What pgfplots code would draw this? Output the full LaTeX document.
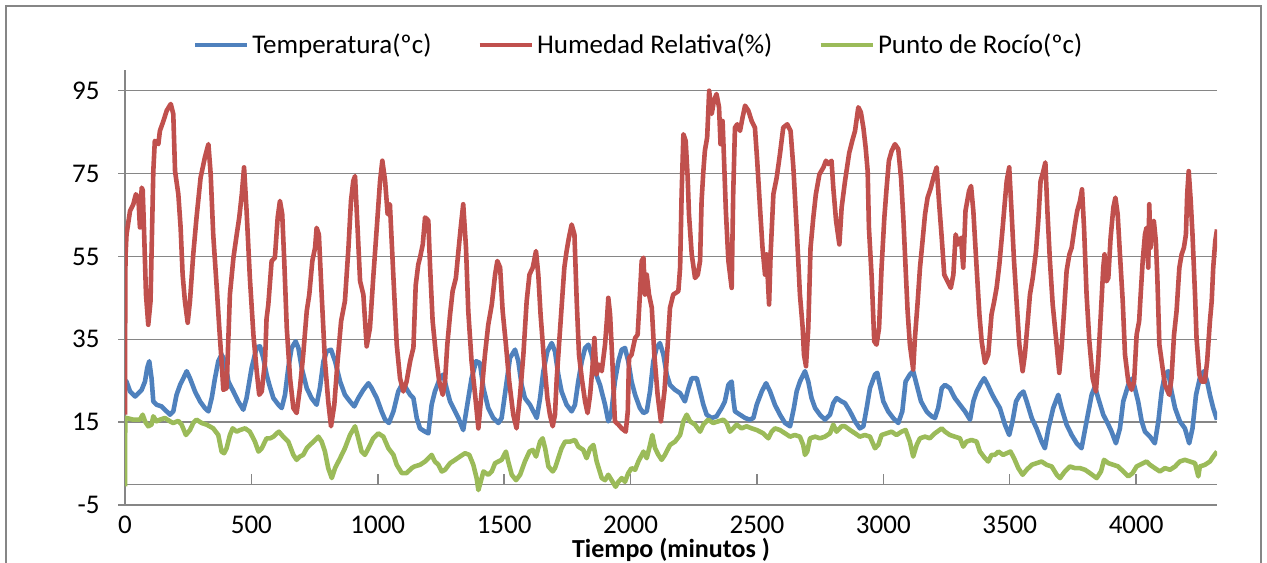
\documentclass[border=0pt]{standalone}
\usepackage{fontspec}
\setmainfont{Carlito}
\usepackage{pgfplots}
\pgfplotsset{compat=1.18}
\definecolor{cT}{HTML}{4F81BD}
\definecolor{cH}{HTML}{C0504D}
\definecolor{cP}{HTML}{9BBB59}
\definecolor{gridc}{HTML}{868686}
\begin{document}
\begin{tikzpicture}[x=1pt,y=1pt]
\path[use as bounding box] (0,0) rectangle (633.5,-281);
\draw[gridc, line width=0.75pt] (3,-290) -- (3,-3) -- (630.5,-3) -- (630.5,-290);
\begin{axis}[
  at={(62.5pt,-252.5pt)}, anchor=south west,
  scale only axis, width=546pt, height=217.5pt,
  xmin=0, xmax=4320, ymin=-5, ymax=100,
  axis x line*=bottom, axis y line*=left,
  axis line style={gridc, line width=0.75pt, -},
  xtick={0,500,...,4000}, ytick={-5,15,35,55,75,95},
  ymajorgrids, grid style={gridc, line width=0.75pt},
  x tick style={draw=none},
  y tick style={gridc, line width=0.75pt},
  tick align=outside, major tick length=3.5pt,
  font=\fontsize{13.5}{16}\selectfont,
  /pgf/number format/assume math mode=true,
  /pgf/number format/set thousands separator={},
  yticklabel style={inner sep=0pt, xshift=-9pt},
  xticklabel style={inner sep=0pt, yshift=-2pt},
  xlabel={\fontsize{13}{15}\selectfont\textbf{Tiempo (minutos )}},
  xlabel style={at={(axis description cs:0.5,0)}, anchor=north, inner sep=0pt, yshift=-16.3pt},
  legend columns=3,
  legend style={at={(axis description cs:0.4707,1.0575)}, anchor=center, draw=none, fill=none,
    font=\fontsize{13.5}{16}\selectfont, nodes={inner sep=1.5pt},
    /tikz/every even column/.append style={column sep=21.5pt}},
  legend image code/.code={\draw[#1] (0pt,0pt) -- (26pt,0pt);},
  every axis plot/.append style={line width=2.3pt, line join=round, no markers},
]
\draw[gridc, line width=0.75pt] (axis cs:0,0) -- (axis cs:4320,0);
\pgfplotsinvokeforeach{0,500,1000,1500,2000,2500,3000,3500,4000}{\draw[gridc, line width=0.75pt] (axis cs:#1,0) -- ++(0,-5pt);}
\addplot[cT] coordinates {(0,25)(6,24.8)(20,22.4)(40,21.2)(53,22)(66,22.8)(79,24.8)(88,28.1)(96,29.7)(105,25.6)(112,20)(125,19.2)(145,18.8)(158,18)(178,16.8)(191,17.6)(204,21.6)(218,24)(231,25.6)(244,27.3)(257,25.6)(277,22.4)(297,20)(316,18.4)(330,17.6)(343,20.8)(356,25.6)(369,29.7)(382,31.3)(396,29.7)(409,24.8)(429,22.4)(448,20)(468,18)(481,20.8)(501,28.1)(521,33.1)(534,33.3)(547,30.5)(560,26.5)(571,24)(587,20.8)(607,19.2)(620,18.4)(633,21.6)(646,28.1)(659,32.9)(675,34.5)(686,32.9)(699,28.1)(719,23.2)(738,20.8)(758,19.2)(771,23.2)(785,29.7)(798,32.1)(815,32.5)(831,29.7)(851,24.8)(870,21.6)(890,20)(907,18.8)(923,20.8)(943,22.8)(963,24.4)(976,23.2)(996,20.8)(1015,17.6)(1029,15.6)(1044,14.8)(1062,17.6)(1081,22.4)(1095,24)(1108,23.6)(1128,21.6)(1141,20.8)(1154,16)(1167,13.5)(1187,12.7)(1200,12.3)(1213,19.2)(1226,22.4)(1246,25.6)(1259,26.5)(1272,23.2)(1286,20)(1299,18.4)(1319,16)(1338,13.1)(1352,18.4)(1371,25.6)(1389,29.7)(1404,29.3)(1418,23.2)(1437,18.4)(1457,16)(1477,14.8)(1490,16)(1510,24.8)(1523,30.5)(1543,32.5)(1556,29.7)(1569,24)(1582,20.8)(1602,19.2)(1629,16)(1642,20.8)(1655,27.3)(1671,32.1)(1688,34.1)(1701,32.1)(1714,26.5)(1727,22.4)(1747,19.2)(1767,17.6)(1780,19.2)(1793,24.8)(1807,29.7)(1820,32.9)(1833,33.7)(1846,31.3)(1859,27.3)(1879,24)(1899,19.2)(1912,15.2)(1923,16.8)(1938,24.8)(1952,29.7)(1965,32.5)(1978,32.9)(1991,29.7)(2004,24.8)(2018,21.6)(2037,18.4)(2051,17.2)(2064,17.6)(2077,22.4)(2090,29.7)(2103,32.9)(2116,34.1)(2130,31.3)(2143,26.5)(2156,24)(2176,22.8)(2196,22)(2215,20)(2229,23.2)(2242,25.6)(2262,25.6)(2275,22.4)(2288,19.2)(2301,16.8)(2321,16)(2340,16.4)(2360,18.4)(2373,20)(2387,24)(2400,24.8)(2406,20.8)(2413,17.6)(2433,16.8)(2453,16)(2472,15.6)(2486,16)(2499,19.2)(2519,22.4)(2536,24.4)(2552,22.4)(2571,19.2)(2591,16.8)(2611,14.8)(2631,14)(2646,18.4)(2657,22.4)(2670,24.8)(2690,27.3)(2703,24.8)(2716,20.8)(2730,18.4)(2749,16.8)(2769,15.6)(2789,16.8)(2802,19.6)(2815,20.8)(2835,20)(2848,19.6)(2868,17.6)(2888,15.2)(2907,13.5)(2921,14)(2934,18.4)(2947,23.2)(2967,26.5)(2976,26.9)(2986,24)(3000,20)(3019,17.6)(3039,16)(3059,14.8)(3075,17.6)(3088,24.8)(3105,26.5)(3118,27.3)(3132,24)(3149,20)(3171,17.6)(3191,16.4)(3204,16)(3217,18.4)(3231,23.2)(3244,24)(3263,23.2)(3283,20.8)(3303,19.2)(3323,17.6)(3343,15.6)(3356,20)(3369,22.4)(3386,24.4)(3399,25.6)(3413,24)(3428,22)(3441,20.5)(3461,18.4)(3481,14.4)(3498,11.9)(3511,15.2)(3525,20)(3540,21.6)(3554,22.4)(3567,20)(3587,16)(3606,13.5)(3626,10.3)(3639,8.7)(3653,13.5)(3672,18.4)(3692,21.6)(3705,18.4)(3725,14.4)(3745,11.9)(3765,9.9)(3784,8.7)(3804,15.2)(3824,21.6)(3837,23.6)(3850,20.8)(3870,16.8)(3890,14.4)(3903,12.7)(3920,9.9)(3936,13.5)(3949,20)(3969,24)(3986,25.6)(3995,23.2)(4008,20)(4022,15.2)(4035,12.7)(4055,11.5)(4074,9.9)(4088,15.2)(4101,22.4)(4114,26.5)(4127,27.3)(4140,22.4)(4154,18.4)(4173,15.2)(4193,13.5)(4210,9.9)(4223,13.5)(4237,21.6)(4252,25.6)(4268,27.3)(4281,24.8)(4292,21.6)(4305,18.4)(4320,15.6)};
\addlegendentry{Temperatura(ºc)}
\addplot[cH] coordinates {(0,16.8)(1,45)(2,55)(6,60.3)(20,66)(33,67.6)(43,70)(53,69.2)(59,62)(66,71.6)(70,71)(75,62)(83,45.8)(92,38.5)(101,44.2)(112,75.6)(118,82.9)(132,82.1)(138,85.3)(152,87.7)(165,90.2)(181,91.8)(191,89.4)(198,75.6)(211,70)(220,62)(228,50.6)(237,44.2)(248,39)(257,44.2)(270,55.5)(283,64.4)(299,74)(316,78.9)(330,82.1)(339,74.8)(349,60.3)(363,47.4)(373,37.7)(382,29.7)(389,22.8)(402,23.2)(415,45.8)(429,54.7)(442,60.3)(452,64.4)(462,70)(471,76.5)(481,66)(494,49.8)(508,36.1)(521,27.3)(531,21.6)(541,22.4)(554,29.7)(560,40)(567,43.4)(580,53.9)(593,54.7)(604,64.4)(613,68.4)(622,65.2)(630,53.9)(640,37.7)(653,25.6)(666,18.4)(679,17.2)(692,23.2)(705,31.3)(719,41.8)(729,45.8)(741,53.9)(752,57.1)(758,61.9)(767,60.3)(778,45.8)(791,29.7)(804,20)(815,14)(828,19.2)(841,29.7)(855,39.4)(870,44.2)(884,57.1)(894,68.4)(903,73.2)(910,74.4)(920,61.9)(930,49)(943,45.8)(956,33.3)(969,37.7)(982,49.8)(996,61.9)(1009,73.2)(1018,78.1)(1029,73.2)(1039,65.2)(1048,67.6)(1062,49.8)(1075,33.7)(1088,25.6)(1101,22.4)(1114,24.8)(1128,29.7)(1141,33)(1150,48)(1160,53)(1167,54.7)(1178,57.9)(1187,64.4)(1195,64)(1200,63.6)(1207,52.3)(1217,39.4)(1230,31.3)(1243,24.8)(1257,21.6)(1266,24.8)(1275,33.7)(1286,41)(1296,46.6)(1309,49.8)(1319,56.3)(1328,61.9)(1338,67.6)(1349,57.1)(1358,41.8)(1371,29.7)(1385,21.6)(1398,13.5)(1411,22.4)(1424,31.3)(1437,38.5)(1451,43.4)(1464,50.6)(1473,53.9)(1484,52.3)(1494,41.8)(1507,33.7)(1520,24.8)(1536,16.8)(1549,13.5)(1563,21.6)(1576,31.3)(1589,44.2)(1600,50.6)(1613,52.3)(1626,56.3)(1635,50.6)(1644,41)(1658,29.7)(1671,20.8)(1681,16.8)(1692,14)(1701,16.8)(1708,25.6)(1717,33.7)(1727,42.6)(1738,52.3)(1747,56.3)(1756,59.5)(1767,62.7)(1778,60.3)(1787,44.2)(1796,31.3)(1807,25.6)(1820,20)(1830,17.2)(1840,21.6)(1849,28.1)(1857,35.3)(1865,26.5)(1875,28.9)(1886,27.3)(1899,33.7)(1907,40.2)(1912,45)(1919,41)(1928,29.7)(1938,15.2)(1952,14.4)(1965,13.5)(1981,12.7)(1989,17.6)(1994,30.5)(2004,31.3)(2018,35.3)(2028,36.1)(2037,45.8)(2044,53.9)(2051,54.7)(2057,45.8)(2064,50.6)(2073,45.8)(2084,42.6)(2094,31.3)(2107,21.6)(2120,15.2)(2134,22.4)(2147,33.7)(2156,42.6)(2169,45.8)(2189,46.6)(2196,52.3)(2202,70)(2209,84.5)(2218,82.9)(2226,74)(2231,65.2)(2242,55.5)(2255,49.8)(2266,50.6)(2275,53.9)(2281,68.4)(2288,75.6)(2294,80.5)(2303,83.7)(2311,95)(2321,89.4)(2330,92.6)(2340,94.2)(2350,91)(2356,82.1)(2364,87.7)(2369,79.7)(2377,66)(2387,53.9)(2400,47.4)(2406,70)(2413,86.1)(2422,86.9)(2433,85.3)(2443,88.5)(2453,91.4)(2466,90.2)(2479,87.7)(2492,86.1)(2501,78.1)(2512,66.8)(2522,57.1)(2532,50.6)(2538,55.5)(2548,43.4)(2554,55.5)(2565,70)(2578,74)(2591,79.7)(2604,86.1)(2620,86.9)(2633,85.3)(2644,76.5)(2657,61.9)(2670,45.8)(2681,37.7)(2686,31.3)(2694,28.5)(2703,37.7)(2712,57.1)(2723,64.4)(2733,70)(2747,74.8)(2763,76.5)(2773,78.1)(2782,77.3)(2795,78.1)(2802,71.6)(2813,63.6)(2826,57.9)(2835,66.8)(2848,73)(2865,80)(2877,82.9)(2888,85.3)(2901,91)(2911,89.8)(2921,86.1)(2930,81.3)(2938,75.6)(2943,61.9)(2954,49.8)(2964,34.5)(2973,33.7)(2983,37.7)(2993,52.3)(3004,64.4)(3013,71.6)(3022,78.1)(3033,80.5)(3046,82.1)(3059,80.9)(3070,74)(3079,64.4)(3088,52.3)(3096,41.8)(3105,33.7)(3118,27.7)(3125,35.3)(3136,44.2)(3145,52.3)(3155,58.7)(3165,65.2)(3175,69.2)(3188,71.6)(3198,74)(3211,76.5)(3220,68.4)(3231,59.5)(3241,50.6)(3254,49)(3267,47.4)(3277,50.6)(3286,60.3)(3296,57.9)(3307,59.5)(3316,52.3)(3325,66)(3339,70.8)(3347,72)(3356,66)(3369,52.3)(3380,41)(3389,34.5)(3402,29.3)(3415,31.3)(3428,41)(3438,44)(3448,47.4)(3459,53.1)(3472,61.9)(3481,68.4)(3488,73.2)(3498,76.5)(3507,66)(3517,53.9)(3527,44.2)(3538,33.7)(3551,27.3)(3560,31.3)(3569,37.7)(3580,45.8)(3591,49.8)(3604,56.3)(3613,63.6)(3622,73.2)(3633,75.6)(3641,77.7)(3649,66)(3659,53.9)(3670,43.4)(3683,35.3)(3696,26.9)(3705,32.9)(3715,41.8)(3725,51.5)(3736,55.5)(3745,57.1)(3758,62.7)(3767,66)(3778,68.4)(3786,71.2)(3794,61.9)(3804,45.8)(3815,34.5)(3828,25.6)(3841,22.4)(3850,29.7)(3861,41.8)(3870,52.3)(3875,55.5)(3883,49)(3890,49.8)(3899,59.5)(3910,66.8)(3918,69.2)(3927,65.2)(3936,55.5)(3947,44.2)(3956,31.3)(3969,24.8)(3982,22.8)(3992,24.8)(4002,36.1)(4012,39.4)(4018,45.8)(4026,53.9)(4035,60.3)(4041,61.9)(4048,52.3)(4052,67.6)(4057,57.1)(4063,61.9)(4070,63.6)(4078,58.7)(4084,49.8)(4092,33.7)(4101,29.7)(4114,24)(4131,21.6)(4140,25.6)(4150,36.1)(4160,41.8)(4171,52.3)(4180,55.5)(4189,57.1)(4197,60.3)(4202,70)(4208,75.6)(4216,68.4)(4223,60.3)(4233,45.8)(4239,35.3)(4250,26.5)(4259,24.8)(4272,24.8)(4281,29.7)(4292,39.4)(4299,44.2)(4305,52.3)(4313,58.7)(4320,61.5)};
\addlegendentry{Humedad Relativa(\%)}
\addplot[cP] coordinates {(0,-0.5)(1,16)(6,16)(33,15.6)(59,15.6)(70,16.8)(79,15.2)(92,14)(105,14.4)(112,16.4)(125,15.2)(138,15.6)(158,16)(178,15.2)(191,14.8)(211,15.3)(224,14.4)(241,11.9)(257,13.1)(270,14.8)(283,15.6)(303,14.8)(323,14.4)(349,13.5)(369,11.9)(382,7.9)(392,7.5)(402,8.7)(415,11.9)(426,13.5)(442,12.7)(455,13.1)(475,13.5)(494,12.7)(514,10.3)(528,7.9)(541,8.7)(560,11.1)(574,11.1)(587,11.5)(600,12.3)(609,12.7)(626,11.5)(646,10.3)(666,7.1)(679,5.9)(692,6.7)(705,7.1)(719,8.7)(732,9.5)(752,10.7)(765,11.5)(778,10.3)(791,7.9)(804,3.9)(818,1.5)(831,3.9)(851,6.3)(870,8.7)(890,11.9)(910,14)(923,11.1)(936,7.9)(949,7.1)(963,8.7)(982,11.1)(1002,12.3)(1022,11.5)(1042,8.7)(1062,7.1)(1075,4.7)(1095,2.7)(1114,2.7)(1134,3.9)(1145,4.3)(1167,4.7)(1187,5.5)(1200,6.3)(1213,7.1)(1226,5.5)(1240,4.7)(1253,3.1)(1266,3.5)(1286,5.1)(1306,5.9)(1325,6.7)(1345,7.5)(1362,7.1)(1378,4.7)(1391,1.5)(1398,-1.4)(1407,0.6)(1418,3.1)(1437,2.3)(1451,3.1)(1464,5.1)(1477,5.5)(1490,5.9)(1507,7.9)(1516,5.5)(1530,2.3)(1547,1)(1563,2.3)(1582,5.5)(1600,7.9)(1613,8.3)(1626,6.7)(1642,10.3)(1652,11.1)(1662,8.7)(1675,4.3)(1692,3.1)(1701,3.9)(1714,6.3)(1727,8.7)(1741,10.3)(1760,10.3)(1780,10.7)(1793,9.1)(1813,8.3)(1826,6.3)(1840,8.7)(1853,9.5)(1866,5.5)(1886,1.5)(1899,1)(1912,2.3)(1925,1)(1941,-0.6)(1952,0.6)(1965,1.5)(1978,0.6)(1991,2.7)(2004,3.9)(2018,3.5)(2031,5.5)(2051,7.9)(2064,6.3)(2077,9.5)(2086,11.9)(2097,8.7)(2110,7.1)(2123,5.9)(2136,7.1)(2156,9.5)(2176,10.3)(2196,11.9)(2209,15.2)(2222,16.8)(2235,15.2)(2255,14.4)(2275,12.7)(2288,14.4)(2307,15.6)(2327,14.8)(2347,15.2)(2367,15.6)(2380,14.8)(2393,12.7)(2406,13.5)(2420,14.4)(2439,13.5)(2459,14)(2479,13.5)(2499,13.1)(2525,12.3)(2545,11.1)(2558,12.7)(2571,13.5)(2591,13.1)(2611,12.3)(2631,11.5)(2650,11.9)(2670,11.5)(2683,9.5)(2690,7.1)(2699,7.9)(2710,11.1)(2730,11.5)(2749,11.1)(2769,11.5)(2789,12.3)(2802,14.4)(2815,12.7)(2835,14)(2848,14)(2868,13.1)(2888,12.3)(2907,11.5)(2927,11.9)(2947,11.5)(2967,8.7)(2980,9.5)(2993,11.9)(3013,12.3)(3033,12.7)(3052,11.9)(3072,12.7)(3088,13.1)(3105,10.3)(3118,6.7)(3132,9.5)(3145,11.1)(3165,11.5)(3184,11.1)(3204,12.3)(3231,13.5)(3244,12.7)(3263,11.9)(3283,11.5)(3303,11.1)(3316,9.1)(3329,10.3)(3349,10.7)(3369,10.3)(3382,7.9)(3402,6.3)(3415,5.5)(3428,7.1)(3441,7.1)(3455,7.9)(3474,7.1)(3488,7.5)(3503,7.9)(3517,6.3)(3534,3.9)(3551,2.3)(3567,3.5)(3587,4.7)(3606,5.1)(3626,5.5)(3646,4.7)(3666,4.3)(3686,2.3)(3699,1.5)(3718,3.1)(3738,4.3)(3758,3.9)(3778,3.9)(3798,3.5)(3817,2.7)(3844,1.5)(3861,3.1)(3873,5.9)(3890,5.1)(3910,4.7)(3929,4.3)(3949,3.1)(3969,1.9)(3986,2.7)(4002,4.3)(4015,4.7)(4028,5.1)(4041,5.5)(4055,4.7)(4074,3.9)(4094,3.1)(4114,3.9)(4134,3.5)(4154,4.3)(4173,5.5)(4193,5.9)(4213,5.5)(4233,5.1)(4246,1.9)(4252,4.3)(4272,4.7)(4292,5.5)(4305,6.7)(4320,7.9)};
\addlegendentry{Punto de Rocío(ºc)}
\end{axis}
\end{tikzpicture}
\end{document}
